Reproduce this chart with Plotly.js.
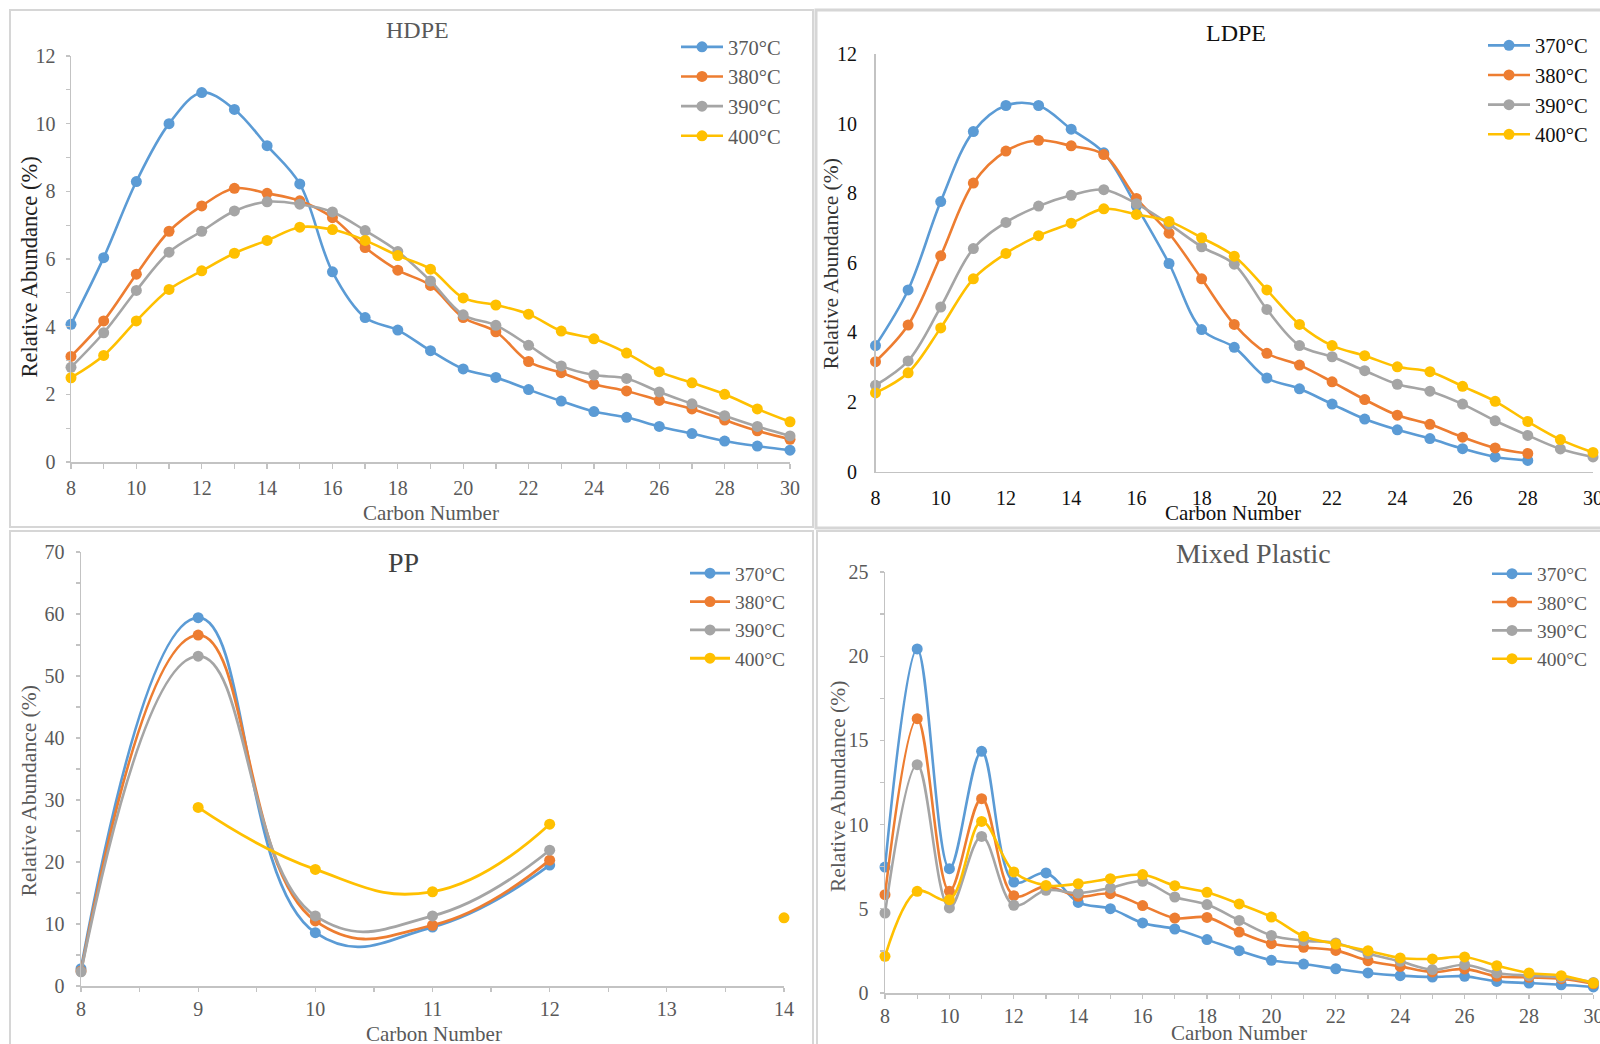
<!DOCTYPE html>
<html>
<head>
<meta charset="utf-8">
<script src="https://cdn.plot.ly/plotly-3.0.1.min.js"></script>
<style>
html,body{margin:0;padding:0;background:#fff;}
#chart{width:1600px;height:1044px;}
</style>
</head>
<body>
<div id="chart"></div>
<script>
// ---------------- DATA ----------------
const seriesNames = ['370°C', '380°C', '390°C', '400°C'];
const seriesColors = ['#5B9BD5', '#ED7D31', '#A5A5A5', '#FFC000'];

const carbon = [8,9,10,11,12,13,14,15,16,17,18,19,20,21,22,23,24,25,26,27,28,29,30];

// HDPE
const hdpe370 = [4.07,6.04,8.29,10.0,10.92,10.42,9.35,8.22,5.62,4.27,3.9,3.29,2.75,2.5,2.14,1.8,1.49,1.32,1.05,0.84,0.62,0.47,0.35];
const hdpe380 = [3.12,4.17,5.55,6.82,7.57,8.09,7.94,7.72,7.22,6.34,5.67,5.22,4.27,3.85,2.97,2.64,2.3,2.1,1.82,1.57,1.24,0.92,0.67];
const hdpe390 = [2.8,3.82,5.07,6.2,6.82,7.42,7.69,7.62,7.39,6.84,6.22,5.35,4.35,4.04,3.45,2.84,2.57,2.47,2.07,1.72,1.37,1.05,0.77];
const hdpe400 = [2.49,3.15,4.17,5.1,5.65,6.17,6.55,6.94,6.87,6.55,6.1,5.7,4.85,4.64,4.37,3.87,3.64,3.22,2.67,2.34,2.0,1.57,1.19];

// LDPE
const ldpe370 = [3.62,5.22,7.76,9.77,10.52,10.52,9.84,9.16,7.63,5.98,4.08,3.57,2.69,2.38,1.94,1.51,1.2,0.95,0.66,0.42,0.32,null,null];
const ldpe380 = [3.16,4.21,6.2,8.29,9.21,9.52,9.36,9.11,7.85,6.85,5.54,4.23,3.4,3.06,2.58,2.07,1.62,1.36,0.99,0.68,0.52,null,null];
const ldpe390 = [2.48,3.18,4.73,6.41,7.16,7.63,7.94,8.1,7.7,7.11,6.46,5.96,4.66,3.62,3.3,2.9,2.51,2.31,1.94,1.46,1.04,0.65,0.42];
const ldpe400 = [2.26,2.84,4.13,5.54,6.27,6.78,7.14,7.55,7.39,7.19,6.72,6.19,5.22,4.23,3.62,3.33,3.01,2.87,2.45,2.02,1.44,0.92,0.55];

// PP
const ppCarbon = [8,9,10,11,12,13,14];
const pp370 = [2.8,59.4,8.6,9.5,19.5,null,null];
const pp380 = [2.4,56.6,10.5,9.8,20.3,null,null];
const pp390 = [2.3,53.2,11.3,11.3,21.9,null,null];
const pp400 = [null,28.8,18.8,15.2,26.1,null,11.0];

// Mixed Plastic
const mix370 = [7.48,20.43,7.38,14.35,6.59,7.13,5.38,5.01,4.16,3.8,3.17,2.51,1.94,1.72,1.44,1.19,1.03,0.95,0.99,0.69,0.59,0.49,0.36];
const mix380 = [5.84,16.29,6.04,11.54,5.78,6.33,5.74,5.9,5.19,4.45,4.49,3.62,2.93,2.71,2.53,1.92,1.58,1.25,1.43,0.99,0.93,0.85,0.55];
const mix390 = [4.75,13.56,5.05,9.3,5.21,6.1,5.94,6.24,6.63,5.7,5.25,4.31,3.42,3.11,2.97,2.34,1.88,1.39,1.68,1.19,1.03,0.93,0.63];
const mix400 = [2.18,6.04,5.54,10.19,7.19,6.39,6.49,6.79,7.03,6.37,5.98,5.29,4.51,3.37,2.91,2.51,2.08,2.02,2.14,1.62,1.19,1.03,0.59];

const panelTitles = ['HDPE', 'LDPE', 'PP', 'Mixed Plastic'];
const xTitle = 'Carbon Number';
const yTitle = 'Relative Abundance (%)';

// ---------------- BUILD ----------------
const W = 1600, H = 1044;
const px = v => v / W;
const py = v => 1 - v / H;
const FONT = '"Liberation Serif", "Times New Roman", serif';

const panels = [
  {x: carbon, ys: [hdpe370, hdpe380, hdpe390, hdpe400], xa: 'x', ya: 'y', lg: 'legend', lw: 2.6, sm: 1},
  {x: carbon, ys: [ldpe370, ldpe380, ldpe390, ldpe400], xa: 'x2', ya: 'y2', lg: 'legend2', lw: 2.6, sm: 1},
  {x: ppCarbon, ys: [pp370, pp380, pp390, pp400], xa: 'x3', ya: 'y3', lg: 'legend3', lw: 2.8, sm: 1.3},
  {x: carbon, ys: [mix370, mix380, mix390, mix400], xa: 'x4', ya: 'y4', lg: 'legend4', lw: 2.6, sm: 1}
];

const traces = [];
panels.forEach(p => {
  p.ys.forEach((yv, i) => {
    traces.push({
      type: 'scatter', mode: 'lines+markers',
      x: p.x, y: yv, name: seriesNames[i],
      xaxis: p.xa, yaxis: p.ya, legend: p.lg,
      line: {color: seriesColors[i], width: p.lw, shape: 'spline', smoothing: p.sm},
      marker: {color: seriesColors[i], size: 11},
      connectgaps: false, cliponaxis: false, hoverinfo: 'x+y+name'
    });
  });
});

const AX = '#c3c3c3';
function xAxis(l, r, range, dtick, minor, ticks, color, standoff, ticklen) {
  const a = {
    domain: [px(l), px(r)], range: range, dtick: dtick, tick0: range[0],
    showline: true, linecolor: AX, linewidth: 1.5, showgrid: false, zeroline: false,
    ticks: ticks ? 'outside' : '', ticklen: ticklen || 5, tickcolor: AX, tickwidth: 1.3,
    tickfont: {family: FONT, size: 20, color: color}, ticklabelstandoff: standoff,
    ticklabeloverflow: 'allow', fixedrange: true
  };
  if (minor) a.minor = {dtick: minor, ticks: 'outside', ticklen: ticklen || 5, tickcolor: AX, tickwidth: 1.3, showgrid: false};
  return a;
}
function yAxis(b, t, range, dtick, minor, ticks, color, standoff) {
  const a = {
    domain: [py(b), py(t)], range: range, dtick: dtick, tick0: 0,
    showline: true, linecolor: AX, linewidth: 1.5, showgrid: false, zeroline: false,
    ticks: ticks ? 'outside' : '', ticklen: 4, tickcolor: AX, tickwidth: 1.3,
    tickfont: {family: FONT, size: 20, color: color}, ticklabelstandoff: standoff,
    fixedrange: true
  };
  if (minor) a.minor = {dtick: minor, ticks: 'outside', ticklen: 4, tickcolor: AX, tickwidth: 1.3, showgrid: false};
  return a;
}

function legendAt(lineStartX, firstRowY, size, color, itemW) {
  return {
    x: px(lineStartX - 5), y: py(firstRowY - 19.5), xanchor: 'left', yanchor: 'top',
    bgcolor: 'rgba(0,0,0,0)', borderwidth: 0, itemwidth: itemW,
    font: {family: FONT, size: size, color: color}
  };
}

const GRAY = '#595959', BLACK = '#111111';

function ann(text, x, y, size, color, angle) {
  return {text: text, x: px(x), y: py(y), xref: 'paper', yref: 'paper',
    xanchor: 'center', yanchor: 'middle', showarrow: false, textangle: angle || 0,
    font: {family: FONT, size: size, color: color}};
}

function box(x0, y0, x1, y1, w) {
  return {type: 'rect', xref: 'paper', yref: 'paper', x0: px(x0), x1: px(x1), y0: py(y1), y1: py(y0),
    line: {color: '#d6d6d6', width: w || 2}, fillcolor: 'rgba(0,0,0,0)', layer: 'below'};
}

const layout = {
  width: W, height: H, margin: {l: 0, r: 0, t: 0, b: 0},
  paper_bgcolor: '#ffffff', plot_bgcolor: 'rgba(0,0,0,0)',
  font: {family: FONT},
  showlegend: true,
  xaxis:  xAxis(71, 790, [8, 30], 2, 1, true, GRAY, 2),
  yaxis:  yAxis(462, 56, [0, 12], 2, 1, true, GRAY, 6),
  xaxis2: Object.assign(xAxis(875.5, 1593, [8, 30], 2, null, false, BLACK, 8), {anchor: 'y2'}),
  yaxis2: Object.assign(yAxis(471.6, 54, [0, 12], 2, null, false, BLACK, 13), {anchor: 'x2'}),
  xaxis3: Object.assign(xAxis(81, 784, [8, 14], 1, 0.5, true, GRAY, 0, 4), {anchor: 'y3'}),
  yaxis3: Object.assign(yAxis(986, 552, [0, 70], 10, 5, true, GRAY, 7), {anchor: 'x3'}),
  xaxis4: Object.assign(xAxis(885, 1593.4, [8, 30], 2, 1, true, GRAY, 0, 4), {anchor: 'y4'}),
  yaxis4: Object.assign(yAxis(993, 572, [0, 25], 5, 2.5, true, GRAY, 7), {anchor: 'x4'}),
  legend:  legendAt(681, 46.5, 20.5, GRAY, 42),
  legend2: legendAt(1488, 45, 20.5, BLACK, 42),
  legend3: legendAt(690, 573.5, 19.5, GRAY, 40),
  legend4: legendAt(1492, 574, 19.5, GRAY, 40),
  annotations: [
    ann(panelTitles[0], 417, 30.5, 24, GRAY),
    ann(panelTitles[1], 1236, 33.5, 24, BLACK),
    ann(panelTitles[2], 403, 562, 28, '#404040'),
    ann(panelTitles[3], 1253, 553, 28, GRAY),
    ann(xTitle, 431, 513, 21, GRAY),
    ann(xTitle, 1233, 513, 21, BLACK),
    ann(xTitle, 434, 1034, 21, GRAY),
    ann(xTitle, 1239, 1033, 21, GRAY),
    ann(yTitle, 28.5, 267, 22.5, '#222222', -90),
    ann(yTitle, 830.5, 264, 21.5, '#333333', -90),
    ann(yTitle, 28.5, 791, 21.5, '#595959', -90),
    ann(yTitle, 838, 787, 21.5, '#595959', -90)
  ],
  shapes: [
    box(10, 10, 813, 527, 2),
    box(816, 10, 1610, 528, 3),
    box(10, 531, 813, 1060, 2),
    box(817, 531, 1610, 1060, 2)
  ]
};

Plotly.newPlot('chart', traces, layout, {staticPlot: true, displayModeBar: false});
</script>
</body>
</html>
